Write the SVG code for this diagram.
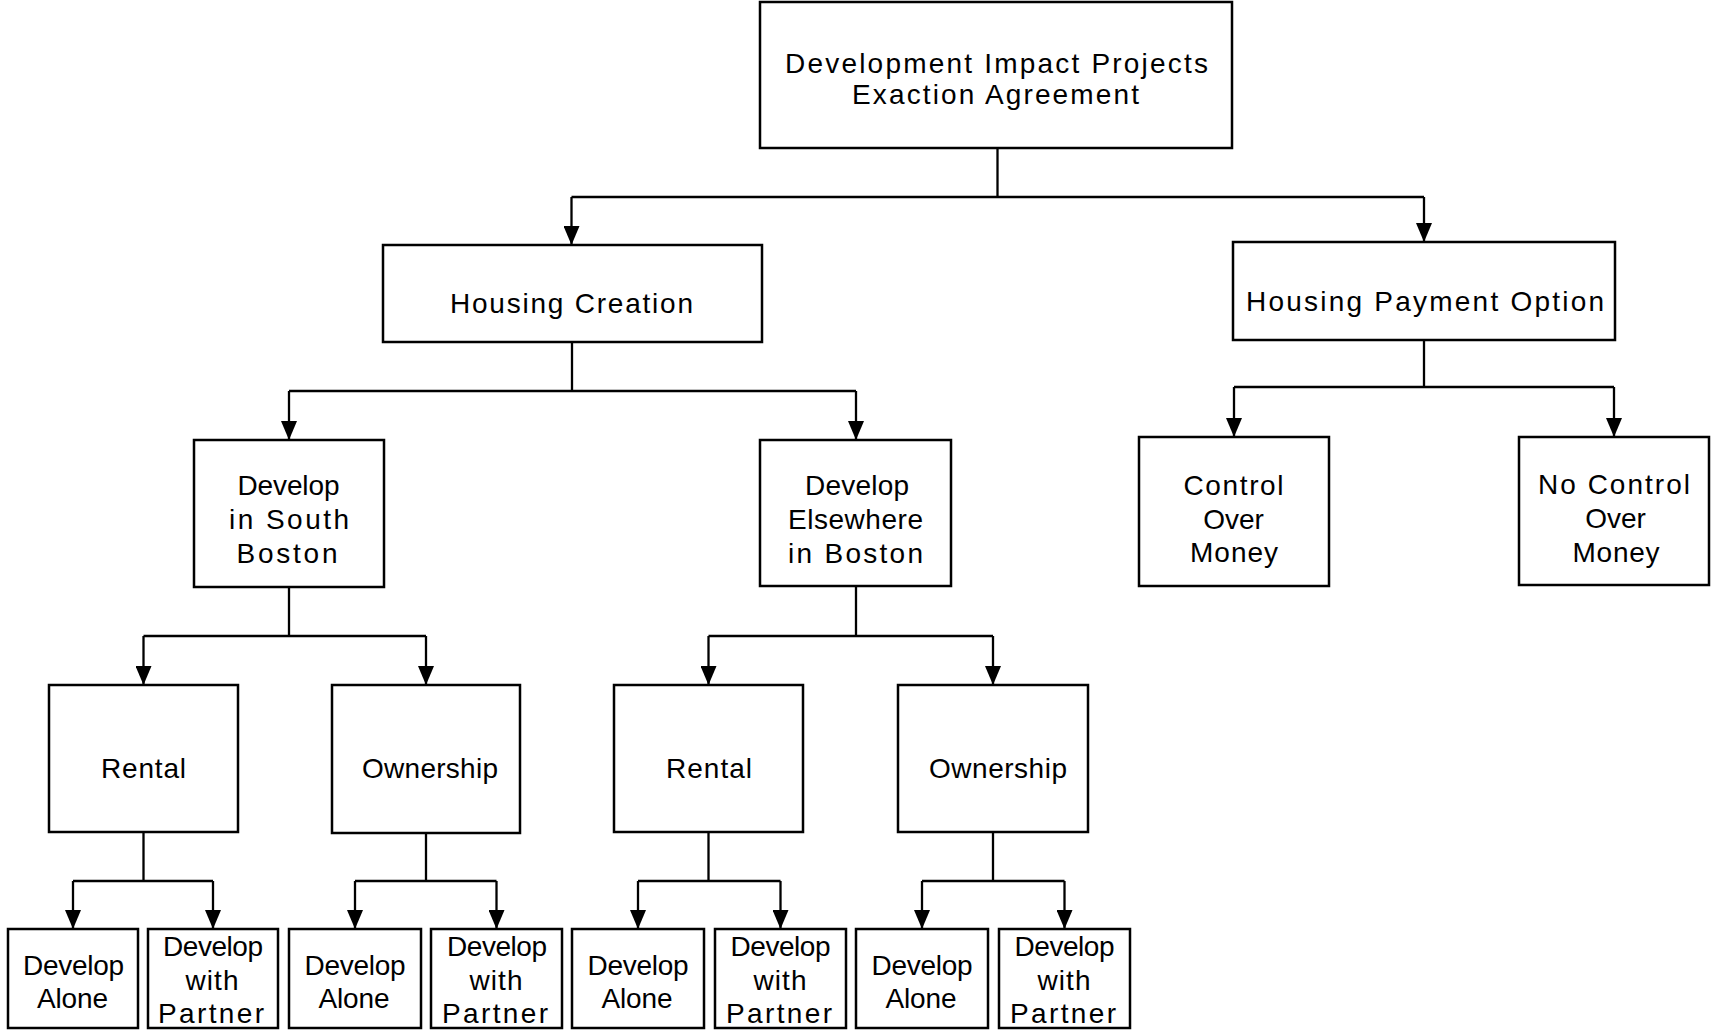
<svg xmlns="http://www.w3.org/2000/svg" width="1711" height="1031" viewBox="0 0 1711 1031">
  <style>
    .box { fill: #ffffff; stroke: #000000; stroke-width: 2.5; }
    .wire { fill: none; stroke: #000000; stroke-width: 2.3; }
    .lbl { font-family: "Liberation Sans", Arial, sans-serif; font-size: 28px; fill: #000000; text-anchor: middle; }
  </style>
  <defs>
    <marker id="arrow" markerUnits="userSpaceOnUse" markerWidth="19" markerHeight="16" refX="19" refY="8" orient="auto">
      <path d="M0,0 L19,8 L0,16 z" fill="#000000"/>
    </marker>
  </defs>
  <rect x="0" y="0" width="1711" height="1031" fill="#ffffff"/>

  <!-- tree connectors: stem, crossbar, arrowed drops -->
  <g id="connectors" class="wire">
    <!-- agreement -> housing creation / payment option -->
    <path d="M997.5,148 V197 M571.5,197 H1424"/>
    <path d="M571.5,197 V245" marker-end="url(#arrow)"/>
    <path d="M1424,197 V242" marker-end="url(#arrow)"/>
    <!-- housing creation -> south boston / elsewhere -->
    <path d="M572,342 V391 M289,391 H856"/>
    <path d="M289,391 V440" marker-end="url(#arrow)"/>
    <path d="M856,391 V440" marker-end="url(#arrow)"/>
    <!-- payment option -> control / no control -->
    <path d="M1424,340 V387 M1234,387 H1614"/>
    <path d="M1234,387 V437" marker-end="url(#arrow)"/>
    <path d="M1614,387 V437" marker-end="url(#arrow)"/>
    <!-- south boston -> rental / ownership -->
    <path d="M289,587 V636 M143.5,636 H426"/>
    <path d="M143.5,636 V685" marker-end="url(#arrow)"/>
    <path d="M426,636 V685" marker-end="url(#arrow)"/>
    <!-- elsewhere -> rental / ownership -->
    <path d="M856,586 V636 M708.5,636 H993"/>
    <path d="M708.5,636 V685" marker-end="url(#arrow)"/>
    <path d="M993,636 V685" marker-end="url(#arrow)"/>
    <!-- rental (south boston) -> alone / partner -->
    <path d="M143.5,832 V881 M73,881 H213"/>
    <path d="M73,881 V929" marker-end="url(#arrow)"/>
    <path d="M213,881 V929" marker-end="url(#arrow)"/>
    <!-- ownership (south boston) -> alone / partner -->
    <path d="M426,833 V881 M355,881 H496.5"/>
    <path d="M355,881 V929" marker-end="url(#arrow)"/>
    <path d="M496.5,881 V929" marker-end="url(#arrow)"/>
    <!-- rental (elsewhere) -> alone / partner -->
    <path d="M708.5,832 V881 M638,881 H780.5"/>
    <path d="M638,881 V929" marker-end="url(#arrow)"/>
    <path d="M780.5,881 V929" marker-end="url(#arrow)"/>
    <!-- ownership (elsewhere) -> alone / partner -->
    <path d="M993,832 V881 M922,881 H1064.5"/>
    <path d="M922,881 V929" marker-end="url(#arrow)"/>
    <path d="M1064.5,881 V929" marker-end="url(#arrow)"/>
  </g>

  <g id="node-agreement">
    <rect class="box" x="760" y="2" width="472" height="146"/>
    <text class="lbl" x="996.5" y="72.5" textLength="423" lengthAdjust="spacing">Development Impact Projects</text>
    <text class="lbl" x="995.5" y="104" textLength="287" lengthAdjust="spacing">Exaction Agreement</text>
  </g>

  <g id="node-housing-creation">
    <rect class="box" x="383" y="245" width="379" height="97"/>
    <text class="lbl" x="571.5" y="313" textLength="243" lengthAdjust="spacing">Housing Creation</text>
  </g>

  <g id="node-payment-option">
    <rect class="box" x="1233" y="242" width="382" height="98"/>
    <text class="lbl" x="1425" y="311" textLength="358" lengthAdjust="spacing">Housing Payment Option</text>
  </g>

  <g id="node-south-boston">
    <rect class="box" x="194" y="440" width="190" height="147"/>
    <text class="lbl" x="288.5" y="495" textLength="102" lengthAdjust="spacing">Develop</text>
    <text class="lbl" x="289" y="529" textLength="120" lengthAdjust="spacing">in South</text>
    <text class="lbl" x="287" y="563" textLength="101" lengthAdjust="spacing">Boston</text>
  </g>

  <g id="node-elsewhere">
    <rect class="box" x="760" y="440" width="191" height="146"/>
    <text class="lbl" x="857" y="495" textLength="104" lengthAdjust="spacing">Develop</text>
    <text class="lbl" x="855.5" y="529" textLength="135" lengthAdjust="spacing">Elsewhere</text>
    <text class="lbl" x="855.5" y="563" textLength="135" lengthAdjust="spacing">in Boston</text>
  </g>

  <g id="node-control">
    <rect class="box" x="1139" y="437" width="190" height="149"/>
    <text class="lbl" x="1233.5" y="494.5" textLength="100" lengthAdjust="spacing">Control</text>
    <text class="lbl" x="1233.5" y="528.5">Over</text>
    <text class="lbl" x="1234" y="562" textLength="88" lengthAdjust="spacing">Money</text>
  </g>

  <g id="node-no-control">
    <rect class="box" x="1519" y="437" width="190" height="148"/>
    <text class="lbl" x="1614" y="494" textLength="152" lengthAdjust="spacing">No Control</text>
    <text class="lbl" x="1615.5" y="528">Over</text>
    <text class="lbl" x="1616" y="561.5" textLength="87" lengthAdjust="spacing">Money</text>
  </g>

  <g id="node-rental-south">
    <rect class="box" x="49" y="685" width="189" height="147"/>
    <text class="lbl" x="143.5" y="778" textLength="85" lengthAdjust="spacing">Rental</text>
  </g>

  <g id="node-ownership-south">
    <rect class="box" x="332" y="685" width="188" height="148"/>
    <text class="lbl" x="430" y="778" textLength="136" lengthAdjust="spacing">Ownership</text>
  </g>

  <g id="node-rental-elsewhere">
    <rect class="box" x="614" y="685" width="189" height="147"/>
    <text class="lbl" x="709" y="778" textLength="86" lengthAdjust="spacing">Rental</text>
  </g>

  <g id="node-ownership-elsewhere">
    <rect class="box" x="898" y="685" width="190" height="147"/>
    <text class="lbl" x="998" y="778" textLength="138" lengthAdjust="spacing">Ownership</text>
  </g>

  <!-- leaf options: develop alone / develop with partner -->
  <g id="node-alone-1">
    <rect class="box" x="8" y="929" width="130" height="99"/>
    <text class="lbl" x="73.5" y="975" textLength="101" lengthAdjust="spacing">Develop</text>
    <text class="lbl" x="72.5" y="1008" textLength="71" lengthAdjust="spacing">Alone</text>
  </g>
  <g id="node-partner-1">
    <rect class="box" x="148" y="929" width="130" height="99"/>
    <text class="lbl" x="213" y="956" textLength="100" lengthAdjust="spacing">Develop</text>
    <text class="lbl" x="212" y="990" textLength="53" lengthAdjust="spacing">with</text>
    <text class="lbl" x="211" y="1023" textLength="106" lengthAdjust="spacing">Partner</text>
  </g>
  <g id="node-alone-2">
    <rect class="box" x="289" y="929" width="132" height="99"/>
    <text class="lbl" x="355" y="975" textLength="101" lengthAdjust="spacing">Develop</text>
    <text class="lbl" x="354" y="1008" textLength="71" lengthAdjust="spacing">Alone</text>
  </g>
  <g id="node-partner-2">
    <rect class="box" x="431" y="929" width="131" height="99"/>
    <text class="lbl" x="497" y="956" textLength="100" lengthAdjust="spacing">Develop</text>
    <text class="lbl" x="496" y="990" textLength="53" lengthAdjust="spacing">with</text>
    <text class="lbl" x="495" y="1023" textLength="106" lengthAdjust="spacing">Partner</text>
  </g>
  <g id="node-alone-3">
    <rect class="box" x="572" y="929" width="132" height="99"/>
    <text class="lbl" x="638" y="975" textLength="101" lengthAdjust="spacing">Develop</text>
    <text class="lbl" x="637" y="1008" textLength="71" lengthAdjust="spacing">Alone</text>
  </g>
  <g id="node-partner-3">
    <rect class="box" x="715" y="929" width="131" height="99"/>
    <text class="lbl" x="780.5" y="956" textLength="100" lengthAdjust="spacing">Develop</text>
    <text class="lbl" x="780" y="990" textLength="53" lengthAdjust="spacing">with</text>
    <text class="lbl" x="779" y="1023" textLength="106" lengthAdjust="spacing">Partner</text>
  </g>
  <g id="node-alone-4">
    <rect class="box" x="856" y="929" width="132" height="99"/>
    <text class="lbl" x="922" y="975" textLength="101" lengthAdjust="spacing">Develop</text>
    <text class="lbl" x="921" y="1008" textLength="71" lengthAdjust="spacing">Alone</text>
  </g>
  <g id="node-partner-4">
    <rect class="box" x="999" y="929" width="131" height="99"/>
    <text class="lbl" x="1064.5" y="956" textLength="100" lengthAdjust="spacing">Develop</text>
    <text class="lbl" x="1064" y="990" textLength="53" lengthAdjust="spacing">with</text>
    <text class="lbl" x="1063" y="1023" textLength="106" lengthAdjust="spacing">Partner</text>
  </g>
</svg>
